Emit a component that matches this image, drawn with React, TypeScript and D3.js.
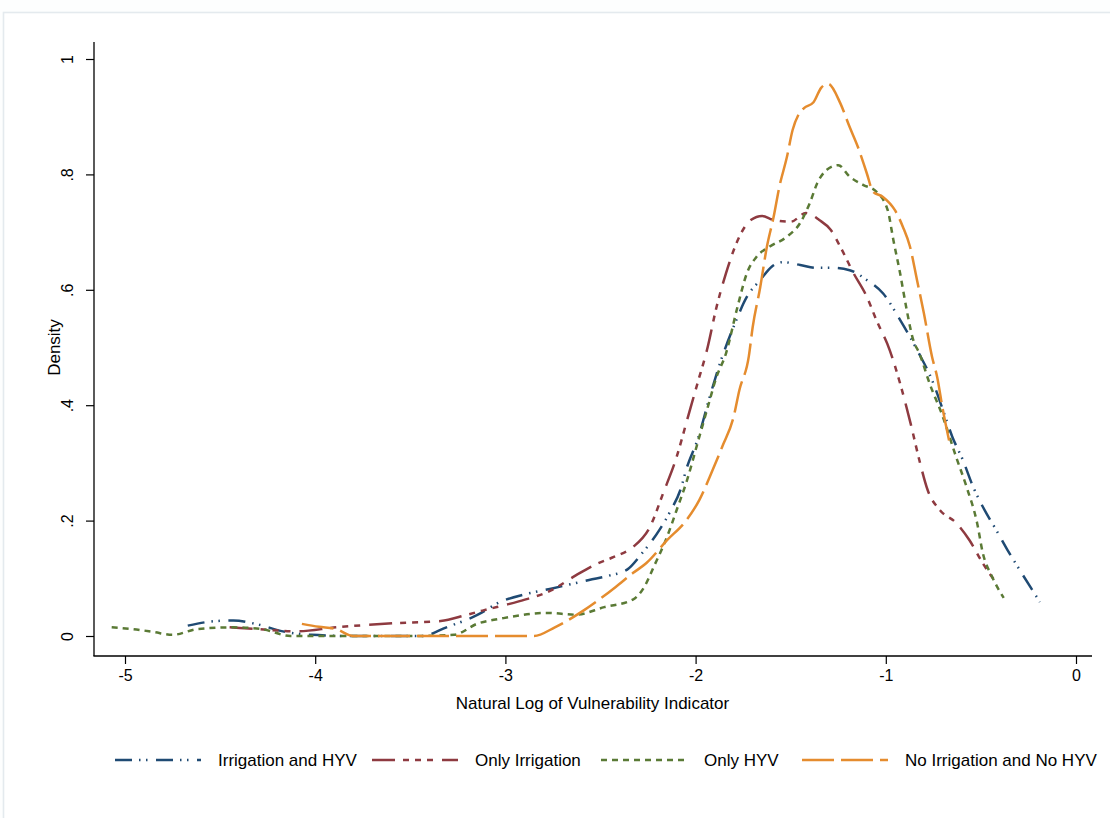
import { useRef, useEffect } from "react";
import * as d3 from "d3";

// density curves: [log vulnerability, density]
const irrigHyv = [
  [-4.67, 0.018], [-4.55, 0.025], [-4.43, 0.027], [-4.3, 0.02], [-4.17, 0.008],
  [-4.02, 0.002], [-3.8, 0.0], [-3.6, 0.0], [-3.44, 0.0], [-3.31, 0.015],
  [-3.15, 0.036], [-3.02, 0.06], [-2.9, 0.072], [-2.76, 0.082], [-2.56, 0.097],
  [-2.45, 0.105], [-2.36, 0.115], [-2.28, 0.144], [-2.19, 0.184], [-2.13, 0.218],
  [-2.08, 0.253], [-2.045, 0.293], [-1.99, 0.34], [-1.92, 0.421], [-1.86, 0.484],
  [-1.8, 0.536], [-1.73, 0.588], [-1.66, 0.617], [-1.6, 0.64], [-1.54, 0.648],
  [-1.45, 0.643], [-1.36, 0.638], [-1.28, 0.638], [-1.19, 0.634], [-1.1, 0.617],
  [-1.015, 0.594], [-0.925, 0.548], [-0.836, 0.496], [-0.75, 0.438], [-0.7, 0.392],
  [-0.65, 0.345], [-0.595, 0.305], [-0.54, 0.258], [-0.49, 0.224], [-0.42, 0.184],
  [-0.36, 0.149], [-0.295, 0.114], [-0.24, 0.085], [-0.19, 0.059],
];

const onlyIrrig = [
  [-4.45, 0.015], [-4.3, 0.012], [-4.1, 0.008], [-3.89, 0.015], [-3.59, 0.022],
  [-3.34, 0.026], [-3.21, 0.036], [-3.12, 0.044], [-2.93, 0.06], [-2.76, 0.079],
  [-2.63, 0.105], [-2.52, 0.125], [-2.43, 0.137], [-2.33, 0.154], [-2.24, 0.189],
  [-2.17, 0.248], [-2.1, 0.31], [-2.045, 0.374], [-1.99, 0.438], [-1.94, 0.496],
  [-1.89, 0.57], [-1.84, 0.629], [-1.77, 0.692], [-1.71, 0.721], [-1.65, 0.728],
  [-1.59, 0.721], [-1.5, 0.718], [-1.42, 0.733], [-1.35, 0.721], [-1.29, 0.704],
  [-1.24, 0.675], [-1.17, 0.629], [-1.1, 0.588], [-1.05, 0.548], [-0.98, 0.496],
  [-0.925, 0.438], [-0.87, 0.369], [-0.82, 0.3], [-0.78, 0.253], [-0.715, 0.218],
  [-0.63, 0.196], [-0.56, 0.166], [-0.49, 0.126], [-0.41, 0.088],
];

const onlyHyv = [
  [-5.07, 0.015], [-4.96, 0.012], [-4.85, 0.007], [-4.75, 0.002], [-4.62, 0.012],
  [-4.43, 0.015], [-4.28, 0.012], [-4.13, 0.0], [-3.8, 0.0], [-3.5, 0.0],
  [-3.27, 0.002], [-3.15, 0.021], [-3.01, 0.031], [-2.78, 0.04], [-2.63, 0.037],
  [-2.48, 0.05], [-2.33, 0.063], [-2.27, 0.085], [-2.22, 0.12], [-2.15, 0.172],
  [-2.1, 0.218], [-2.045, 0.27], [-1.99, 0.334], [-1.94, 0.392], [-1.89, 0.449],
  [-1.84, 0.49], [-1.78, 0.57], [-1.73, 0.629], [-1.68, 0.657], [-1.61, 0.675],
  [-1.52, 0.692], [-1.45, 0.716], [-1.4, 0.75], [-1.36, 0.785], [-1.31, 0.808],
  [-1.25, 0.816], [-1.19, 0.796], [-1.12, 0.782], [-1.05, 0.77], [-0.99, 0.738],
  [-0.96, 0.686], [-0.925, 0.629], [-0.89, 0.565], [-0.86, 0.518], [-0.82, 0.487],
  [-0.77, 0.438], [-0.7, 0.38], [-0.63, 0.31], [-0.575, 0.258], [-0.52, 0.196],
  [-0.49, 0.144], [-0.44, 0.102], [-0.38, 0.066],
];

const noIrrigNoHyv = [
  [-4.07, 0.021], [-3.98, 0.016], [-3.89, 0.012], [-3.8, 0.0], [-3.5, 0.0],
  [-3.2, 0.0], [-2.85, 0.0], [-2.74, 0.015], [-2.59, 0.044], [-2.42, 0.085],
  [-2.33, 0.109], [-2.26, 0.126], [-2.15, 0.166], [-2.05, 0.2], [-1.98, 0.236],
  [-1.91, 0.288], [-1.86, 0.328], [-1.8, 0.38], [-1.77, 0.426], [-1.72, 0.485],
  [-1.7, 0.535], [-1.66, 0.605], [-1.625, 0.675], [-1.59, 0.726], [-1.56, 0.778],
  [-1.52, 0.83], [-1.49, 0.877], [-1.46, 0.903], [-1.43, 0.915], [-1.38, 0.925],
  [-1.34, 0.95], [-1.304, 0.957], [-1.24, 0.924], [-1.19, 0.882], [-1.146, 0.847],
  [-1.1, 0.802], [-1.067, 0.77], [-1.015, 0.761], [-0.952, 0.738], [-0.91, 0.709],
  [-0.873, 0.675], [-0.836, 0.617], [-0.8, 0.56], [-0.757, 0.484], [-0.73, 0.449],
  [-0.7, 0.392], [-0.66, 0.328],
];

const seriesNames = ["Irrigation and HYV", "Only Irrigation", "Only HYV", "No Irrigation and No HYV"];
const seriesColors = ["#1f4a73", "#8e3a40", "#5a7a35", "#e58c2e"];
const seriesDashes = ["17 7 1.5 5.5 1.5 8.5", "23 8 6 6 6 6 6 9", "6 5", "32 7"];
const xTicks = [-5, -4, -3, -2, -1, 0];
const yTicks = [0, 0.2, 0.4, 0.6, 0.8, 1];

export default function App() {
  const ref = useRef(null);
  useEffect(() => {
    const svg = d3.select(ref.current);
    svg.selectAll("*").remove();
    const font = "'Liberation Sans', Arial, Helvetica, sans-serif";

    // light outer frame
    svg
      .append("rect")
      .attr("x", 3.5)
      .attr("y", 12.5)
      .attr("width", 1200)
      .attr("height", 900)
      .attr("fill", "#ffffff")
      .attr("stroke", "#e4eaee")
      .attr("stroke-width", 1.6);

    const x = d3.scaleLinear().domain([-5, 0]).range([125, 1076]);
    const y = d3.scaleLinear().domain([0, 1]).range([636, 59]);

    const axisX = 94;
    const axisY = 656;

    // y axis
    const gy = svg
      .append("g")
      .attr("transform", `translate(${axisX},0)`)
      .call(
        d3
          .axisLeft(y)
          .tickValues(yTicks)
          .tickSize(8)
          .tickFormat((d) => (d === 0 ? "0" : d === 1 ? "1" : d3.format(".1f")(d).replace(/^0/, "")))
      );
    gy.select(".domain").remove();
    gy.selectAll("line").attr("stroke", "#000").attr("stroke-width", 1.2);
    gy.selectAll("text")
      .attr("font-family", font)
      .attr("font-size", 16)
      .attr("fill", "#000")
      .attr("text-anchor", "middle")
      .attr("x", 0)
      .attr("dy", 0)
      .attr("transform", "translate(-21,0) rotate(-90)");

    // x axis
    const gx = svg
      .append("g")
      .attr("transform", `translate(0,${axisY})`)
      .call(d3.axisBottom(x).tickValues(xTicks).tickSize(8).tickPadding(6).tickFormat((d) => String(d)));
    gx.select(".domain").remove();
    gx.selectAll("line").attr("stroke", "#000").attr("stroke-width", 1.2);
    gx.selectAll("text").attr("font-family", font).attr("font-size", 16).attr("fill", "#000");

    svg
      .append("line")
      .attr("x1", axisX)
      .attr("x2", axisX)
      .attr("y1", 42)
      .attr("y2", axisY)
      .attr("stroke", "#000")
      .attr("stroke-width", 1.3);
    svg
      .append("line")
      .attr("x1", axisX - 0.6)
      .attr("x2", 1092)
      .attr("y1", axisY)
      .attr("y2", axisY)
      .attr("stroke", "#000")
      .attr("stroke-width", 1.3);

    // axis titles
    svg
      .append("text")
      .attr("x", (x(-5) + x(0)) / 2 - 8)
      .attr("y", 709)
      .attr("text-anchor", "middle")
      .attr("font-family", font)
      .attr("font-size", 17)
      .text("Natural Log of Vulnerability Indicator");
    svg
      .append("text")
      .attr("transform", `translate(60,${(y(0) + y(1)) / 2}) rotate(-90)`)
      .attr("text-anchor", "middle")
      .attr("font-family", font)
      .attr("font-size", 17)
      .text("Density");

    // curves
    const line = d3
      .line()
      .x((d) => x(d[0]))
      .y((d) => y(d[1]))
      .curve(d3.curveMonotoneX);

    const all = [irrigHyv, onlyIrrig, onlyHyv, noIrrigNoHyv];
    all.forEach((pts, i) => {
      svg
        .append("path")
        .datum(pts)
        .attr("d", line)
        .attr("fill", "none")
        .attr("stroke", seriesColors[i])
        .attr("stroke-width", 2.5)
        .attr("stroke-dasharray", seriesDashes[i]);
    });

    // legend
    const legendX = [115, 372, 601, 802];
    const legendY = 760;
    seriesNames.forEach((name, i) => {
      const g = svg.append("g").attr("transform", `translate(${legendX[i]},${legendY})`);
      g.append("line")
        .attr("x1", 0)
        .attr("x2", 86)
        .attr("y1", 0)
        .attr("y2", 0)
        .attr("stroke", seriesColors[i])
        .attr("stroke-width", 2.5)
        .attr("stroke-dasharray", seriesDashes[i]);
      g.append("text")
        .attr("x", 103)
        .attr("y", 6)
        .attr("font-family", font)
        .attr("font-size", 17)
        .attr("fill", "#000")
        .text(name);
    });
  }, []);

  return (
    <svg
      ref={ref}
      width={1110}
      height={818}
      style={{ position: "absolute", left: 0, top: 0, background: "#fdfefe" }}
    />
  );
}
